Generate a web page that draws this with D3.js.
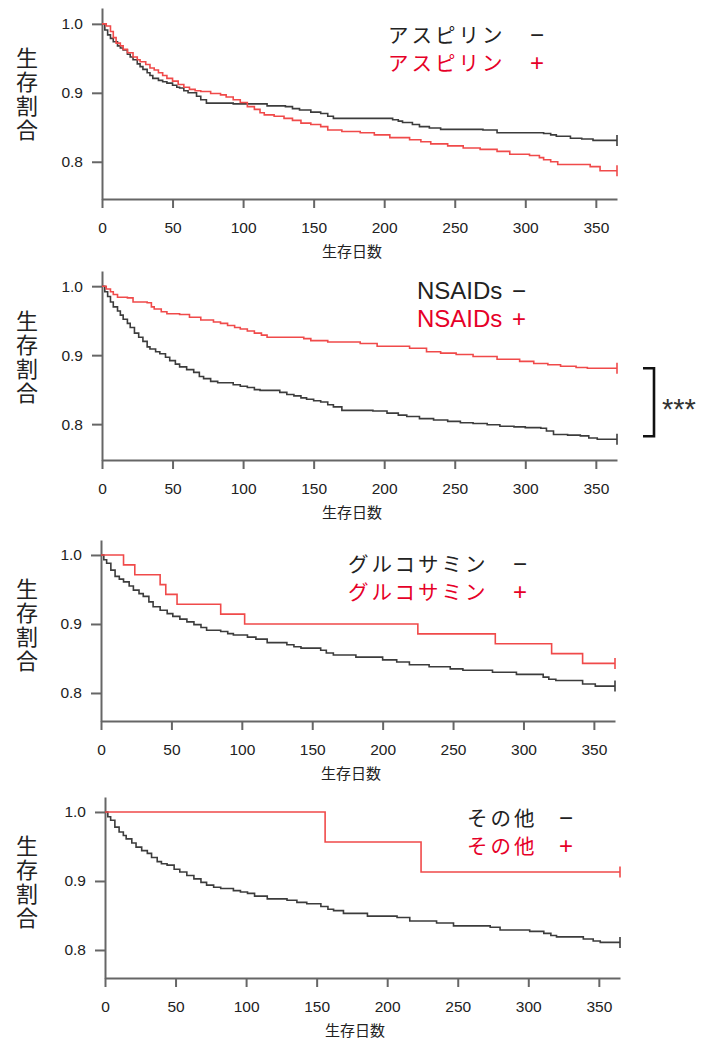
<!DOCTYPE html>
<html>
<head>
<meta charset="utf-8">
<script src="https://cdn.jsdelivr.net/npm/d3@7"></script>
<style>
  body { margin: 0; background: #fff; }
  svg { display: block; }
</style>
</head>
<body>
<div id="chart"></div>
<script>
// tick values
const xTicks = [0, 50, 100, 150, 200, 250, 300, 350];
const yTicks = [0.8, 0.9, 1.0];
const maxDay = 365;

// survival curves, [day, proportion]
const aspirinNeg = [[0,1.000],[2,0.991],[4,0.984],[6,0.979],[8,0.974],[11,0.968],[13,0.965],[15,0.962],[18,0.956],[20,0.952],[22,0.948],[25,0.942],[27,0.938],[29,0.934],[32,0.929],[34,0.925],[36,0.921],[40,0.918],[43,0.916],[46,0.914],[50,0.911],[53,0.908],[55,0.907],[58,0.903],[61,0.900],[67,0.895],[70,0.890],[74,0.885],[93,0.884],[117,0.881],[130,0.880],[135,0.877],[140,0.875],[148,0.872],[155,0.870],[160,0.866],[164,0.863],[206,0.861],[210,0.859],[213,0.857],[220,0.854],[225,0.851],[232,0.849],[240,0.847],[270,0.846],[280,0.842],[313,0.841],[318,0.839],[322,0.837],[332,0.834],[340,0.833],[348,0.831],[365,0.831]];
const aspirinPos = [[0,1.000],[3,0.997],[6,0.989],[8,0.980],[10,0.972],[13,0.968],[15,0.963],[18,0.958],[22,0.952],[25,0.948],[27,0.945],[31,0.941],[34,0.936],[37,0.933],[40,0.929],[43,0.925],[46,0.921],[50,0.917],[54,0.912],[58,0.908],[62,0.905],[66,0.903],[70,0.902],[77,0.899],[84,0.897],[88,0.894],[93,0.890],[98,0.886],[103,0.880],[108,0.876],[112,0.871],[115,0.868],[122,0.866],[129,0.863],[135,0.860],[141,0.856],[148,0.854],[155,0.851],[160,0.846],[170,0.844],[183,0.842],[193,0.839],[204,0.835],[218,0.832],[226,0.829],[233,0.826],[245,0.823],[256,0.820],[268,0.818],[280,0.815],[289,0.811],[303,0.809],[310,0.806],[313,0.803],[318,0.800],[323,0.796],[346,0.793],[353,0.787],[365,0.787]];

const nsaidNeg = [[0,1.000],[2,0.992],[4,0.985],[6,0.977],[8,0.970],[11,0.964],[13,0.958],[15,0.952],[18,0.946],[20,0.940],[23,0.932],[26,0.926],[29,0.920],[32,0.912],[34,0.909],[38,0.905],[41,0.902],[45,0.897],[48,0.892],[52,0.887],[55,0.883],[60,0.879],[65,0.875],[69,0.869],[72,0.866],[77,0.862],[82,0.860],[93,0.857],[98,0.855],[103,0.853],[108,0.850],[112,0.849],[126,0.846],[131,0.843],[136,0.841],[141,0.838],[145,0.836],[150,0.834],[155,0.832],[160,0.828],[164,0.825],[170,0.820],[192,0.819],[202,0.816],[210,0.813],[216,0.811],[225,0.808],[235,0.806],[245,0.804],[254,0.802],[263,0.801],[273,0.799],[282,0.797],[292,0.796],[300,0.795],[311,0.794],[315,0.790],[320,0.785],[330,0.784],[339,0.783],[345,0.780],[351,0.778],[365,0.778]];
const nsaidPos = [[0,1.000],[3,0.996],[6,0.992],[8,0.988],[11,0.984],[18,0.983],[22,0.977],[32,0.976],[35,0.970],[37,0.967],[42,0.963],[46,0.960],[55,0.959],[62,0.955],[70,0.951],[79,0.948],[84,0.946],[89,0.943],[94,0.940],[98,0.938],[103,0.935],[108,0.932],[113,0.929],[117,0.926],[143,0.924],[148,0.921],[160,0.919],[183,0.917],[195,0.913],[218,0.910],[230,0.905],[240,0.903],[251,0.901],[263,0.898],[280,0.894],[296,0.891],[306,0.888],[316,0.886],[325,0.884],[336,0.882],[344,0.881],[365,0.881]];

const glucoNeg = [[0,1.000],[2,0.993],[4,0.988],[7,0.978],[10,0.969],[13,0.965],[16,0.961],[20,0.955],[23,0.949],[27,0.944],[30,0.940],[34,0.932],[37,0.925],[42,0.920],[47,0.915],[51,0.911],[56,0.907],[61,0.903],[66,0.899],[71,0.895],[75,0.891],[85,0.889],[90,0.886],[94,0.884],[104,0.881],[110,0.878],[118,0.873],[132,0.870],[137,0.867],[142,0.865],[156,0.862],[160,0.858],[165,0.855],[181,0.852],[200,0.848],[210,0.845],[219,0.841],[233,0.838],[248,0.835],[257,0.833],[278,0.830],[295,0.827],[314,0.823],[318,0.820],[323,0.818],[342,0.813],[351,0.810],[365,0.810]];
const glucoPos = [[0,1.000],[16,0.9857],[24,0.9714],[42,0.9571],[46,0.9429],[54,0.9286],[85,0.9143],[102,0.9000],[225,0.8857],[280,0.8714],[320,0.8571],[342,0.8429],[365,0.8429]];

const otherNeg = [[0,1.000],[2,0.993],[4,0.988],[7,0.978],[10,0.971],[13,0.966],[15,0.961],[19,0.955],[22,0.949],[26,0.944],[30,0.940],[33,0.934],[37,0.928],[40,0.925],[44,0.923],[49,0.917],[53,0.913],[58,0.908],[63,0.903],[68,0.898],[72,0.894],[77,0.891],[82,0.889],[91,0.886],[96,0.884],[101,0.882],[106,0.878],[115,0.874],[129,0.872],[136,0.869],[143,0.867],[153,0.863],[158,0.859],[162,0.857],[169,0.853],[186,0.849],[207,0.847],[216,0.842],[235,0.839],[247,0.835],[273,0.833],[280,0.829],[301,0.827],[311,0.824],[316,0.821],[320,0.819],[339,0.816],[346,0.813],[351,0.811],[365,0.811]];
const otherPos = [[0,1.000],[156,0.9565],[224,0.9130],[365,0.9130]];

const groupLabels = ["アスピリン", "NSAIDs", "グルコサミン", "その他"];
const yTitle = "生存割合";
const xTitle = "生存日数";
const sigLabel = "***";

const negColor = "#3c3c3c";
const posColor = "#f04a4a";
const posText = "#e60028";
const axisColor = "#666";
const latin = "'Liberation Sans', Arial, sans-serif";
const cjk = "'Noto Sans CJK JP', sans-serif";

const panels = [
    { neg: aspirinNeg, pos: aspirinPos, label: groupLabels[0], left: 102, right: 617, top: 8, bottom: 199, yLow: 0.746, yHigh: 1.023, legX: 388, legY: 33.5, signX: 537, jp: true },
    { neg: nsaidNeg, pos: nsaidPos, label: groupLabels[1], left: 102, right: 617, top: 271, bottom: 460, yLow: 0.748, yHigh: 1.022, legX: 417, legY: 290, signX: 519, jp: false, sig: true },
    { neg: glucoNeg, pos: glucoPos, label: groupLabels[2], left: 101, right: 615, top: 540, bottom: 721, yLow: 0.7594, yHigh: 1.0217, legX: 348, legY: 563, signX: 520, jp: true },
    { neg: otherNeg, pos: otherPos, label: groupLabels[3], left: 105, right: 620, top: 797, bottom: 978, yLow: 0.7594, yHigh: 1.0217, legX: 467, legY: 817, signX: 566, jp: true }
];

const svg = d3.select("#chart").append("svg")
    .attr("width", 701)
    .attr("height", 1039);

panels.forEach(drawPanel);

function drawPanel(p) {
    const g = svg.append("g");

    const x = d3.scaleLinear().domain([0, maxDay]).range([p.left, p.right]);
    const y = d3.scaleLinear().domain([p.yLow, p.yHigh]).range([p.bottom, p.top]);

    // axes
    const xAxis = g.append("g")
        .attr("transform", `translate(0,${p.bottom})`)
        .call(d3.axisBottom(x).tickValues(xTicks).tickSize(9).tickSizeOuter(0).tickPadding(14));
    const yAxis = g.append("g")
        .attr("transform", `translate(${p.left},0)`)
        .call(d3.axisLeft(y).tickValues(yTicks).tickFormat(d3.format(".1f")).tickSize(10).tickSizeOuter(0).tickPadding(9));

    [xAxis, yAxis].forEach(a => {
        a.select(".domain").attr("stroke", axisColor).attr("stroke-width", 2);
        a.selectAll(".tick line").attr("stroke", axisColor).attr("stroke-width", 2);
        a.selectAll(".tick text")
            .attr("fill", "#222")
            .style("font-family", latin)
            .style("font-size", "15.5px");
    });

    // curves
    const line = d3.line()
        .x(d => x(d[0]))
        .y(d => y(d[1]))
        .curve(d3.curveStepAfter);

    [[p.neg, negColor], [p.pos, posColor]].forEach(([data, color]) => {
        g.append("path")
            .datum(data)
            .attr("fill", "none")
            .attr("stroke", color)
            .attr("stroke-width", 1.6)
            .attr("d", line);

        // censor mark at the end
        const last = data[data.length - 1];
        g.append("line")
            .attr("x1", x(last[0])).attr("x2", x(last[0]))
            .attr("y1", y(last[1]) - 5.5).attr("y2", y(last[1]) + 5.5)
            .attr("stroke", color)
            .attr("stroke-width", 1.6);
    });

    // y title, written vertically
    g.append("text")
        .attr("x", 27)
        .attr("y", y(1.0) + 23)
        .style("writing-mode", "vertical-rl")
        .style("font-family", cjk)
        .style("font-size", "22px")
        .style("letter-spacing", "2px")
        .attr("fill", "#222")
        .text(yTitle);

    // x title
    g.append("text")
        .attr("x", p.left + 250)
        .attr("y", p.bottom + 51)
        .attr("text-anchor", "middle")
        .attr("dominant-baseline", "central")
        .style("font-family", cjk)
        .style("font-size", "15px")
        .attr("fill", "#222")
        .text(xTitle);

    // legend: one text block, two rows
    const leg = g.append("text")
        .attr("dominant-baseline", "central");
    const rows = [["−", "#222", p.legY], ["+", posText, p.legY + 28]];
    rows.forEach(([sign, color, cy]) => {
        leg.append("tspan")
            .attr("x", p.legX)
            .attr("y", cy)
            .style("font-family", p.jp ? cjk : latin)
            .style("font-size", p.jp ? "20.5px" : "24px")
            .style("letter-spacing", p.jp ? "3px" : "0px")
            .attr("fill", color)
            .text(p.label);
        leg.append("tspan")
            .attr("x", p.signX - 7)
            .attr("y", cy)
            .style("font-family", latin)
            .style("font-size", "24px")
            .style("letter-spacing", "0px")
            .attr("fill", color)
            .text(sign);
    });

    // significance bracket
    if (p.sig) {
        const yt = y(p.pos[p.pos.length - 1][1]);
        const yb = y(p.neg[p.neg.length - 1][1]) - 3;
        const bx = 654;
        g.append("path")
            .attr("d", `M${bx - 11},${yt}H${bx}V${yb}H${bx - 11}`)
            .attr("fill", "none")
            .attr("stroke", "#111")
            .attr("stroke-width", 2.6);
        g.append("text")
            .attr("x", bx + 8)
            .attr("y", (yt + yb) / 2 + 17)
            .style("font-family", latin)
            .style("font-size", "29px")
            .attr("fill", "#333")
            .text(sigLabel);
    }
}
</script>
</body>
</html>
